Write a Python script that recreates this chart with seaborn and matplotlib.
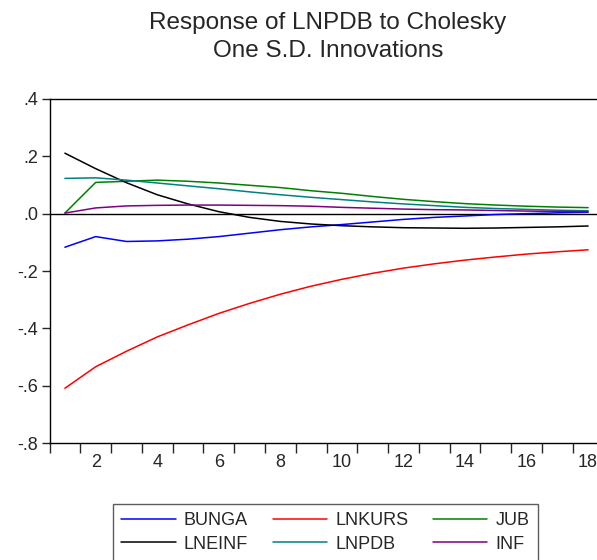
"""
Impulse response chart: Response of LNPDB to Cholesky One S.D. Innovations
"""

import numpy as np
import pandas as pd
import matplotlib
matplotlib.use("Agg")
import matplotlib.pyplot as plt
from matplotlib.ticker import FixedLocator, FuncFormatter
import seaborn as sns

# Periods 1..18
periods = list(range(1, 19))

# Responses
bunga = [-0.117, -0.080, -0.097, -0.095, -0.089, -0.080, -0.068, -0.056, -0.046,
         -0.038, -0.029, -0.020, -0.013, -0.008, -0.003, 0.000, 0.003, 0.005]
lnkurs = [-0.609, -0.534, -0.480, -0.430, -0.388, -0.348, -0.313, -0.281, -0.253,
          -0.229, -0.208, -0.190, -0.175, -0.162, -0.151, -0.141, -0.133, -0.126]
jub = [0.002, 0.109, 0.113, 0.117, 0.113, 0.107, 0.099, 0.091, 0.080,
       0.071, 0.060, 0.050, 0.042, 0.035, 0.030, 0.026, 0.023, 0.021]
lneinf = [0.211, 0.157, 0.108, 0.066, 0.034, 0.007, -0.013, -0.027, -0.036,
          -0.042, -0.046, -0.049, -0.050, -0.051, -0.050, -0.048, -0.046, -0.043]
lnpdb = [0.123, 0.125, 0.117, 0.107, 0.097, 0.087, 0.076, 0.066, 0.057,
         0.049, 0.041, 0.034, 0.028, 0.022, 0.018, 0.015, 0.012, 0.010]
inf = [0.002, 0.020, 0.027, 0.029, 0.030, 0.030, 0.029, 0.028, 0.026,
       0.022, 0.019, 0.016, 0.014, 0.013, 0.011, 0.009, 0.008, 0.007]

series_names = ["BUNGA", "LNKURS", "JUB", "LNEINF", "LNPDB", "INF"]
series_values = [bunga, lnkurs, jub, lneinf, lnpdb, inf]
series_colors = ["#0000FF", "#FF0000", "#008000", "#000000", "#008080", "#800080"]

y_ticks = [-0.8, -0.6, -0.4, -0.2, 0.0, 0.2, 0.4]
x_labels = list(range(2, 19, 2))

# Long-form table for seaborn
df = pd.DataFrame({
    "period": periods * len(series_names),
    "value": np.concatenate(series_values),
    "variable": np.repeat(series_names, len(periods)),
})

sns.set_style("ticks")
plt.rcParams["font.family"] = ["Liberation Sans", "DejaVu Sans"]

fig = plt.figure(figsize=(5.97, 5.60), dpi=100)
ax = fig.add_axes([49.5 / 597, 1 - 443 / 560, 554 / 597, 344 / 560])

sns.lineplot(
    data=df, x="period", y="value", hue="variable",
    hue_order=series_names, palette=series_colors,
    linewidth=1.1, ax=ax, legend=True,
)

# Zero reference line
ax.axhline(0, color="black", lw=1.0, zorder=1)

ax.set_xlim(0.5, 18.5)
ax.set_ylim(-0.8, 0.4)
ax.set_xlabel("")
ax.set_ylabel("")

# x: tick marks between periods, labels centred on even periods
ax.xaxis.set_major_locator(FixedLocator(x_labels))
ax.xaxis.set_minor_locator(FixedLocator(np.arange(0.5, 18.6, 1.0)))
ax.tick_params(axis="x", which="major", length=0, pad=8, labelsize=13)
ax.tick_params(axis="x", which="minor", length=7, width=1.0, direction="out")

ax.yaxis.set_major_locator(FixedLocator(y_ticks))
ax.yaxis.set_major_formatter(
    FuncFormatter(lambda v, _: ("-" if v < -1e-9 else "") + f"{abs(v):.1f}".lstrip("0"))
)
ax.tick_params(axis="y", length=6, width=1.0, pad=2, labelsize=13)

for side in ["left", "bottom", "top"]:
    ax.spines[side].set_visible(True)
    ax.spines[side].set_color("black")
    ax.spines[side].set_linewidth(1.0)
ax.spines["right"].set_visible(False)

# Legend: rows BUNGA LNKURS JUB / LNEINF LNPDB INF
handles, labels = ax.get_legend_handles_labels()
lookup = dict(zip(labels, handles))
order = ["BUNGA", "LNEINF", "LNKURS", "LNPDB", "JUB", "INF"]
ax.legend(
    [lookup[n] for n in order], order,
    ncol=3, loc="upper center",
    bbox_to_anchor=(325.5 / 597, 1 - 504 / 560),
    bbox_transform=fig.transFigure, borderaxespad=0,
    fontsize=13, frameon=True, fancybox=False, edgecolor="#333333",
    handlelength=3.0, handletextpad=0.45, columnspacing=1.38,
    labelspacing=0.37, borderpad=0.45,
)
ax.get_legend().get_frame().set_linewidth(1.0)

fig.text(328 / 597, 1 - 37 / 560,
         "Response of LNPDB to Cholesky\nOne S.D. Innovations",
         ha="center", va="center", fontsize=17.5, linespacing=1.38)

plt.savefig("out.png", dpi=100)
plt.close()
